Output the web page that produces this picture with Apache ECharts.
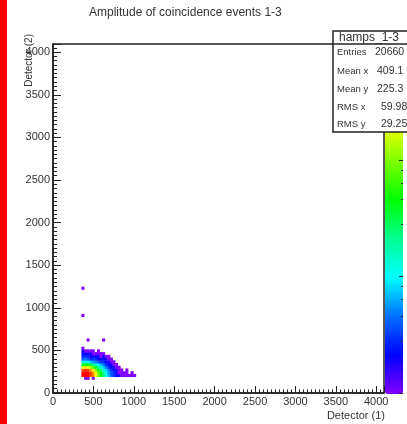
<!DOCTYPE html>
<html>
<head>
<meta charset="utf-8">
<script src="https://cdn.jsdelivr.net/npm/echarts@6/dist/echarts.min.js"></script>
<style>
  html, body { margin: 0; padding: 0; background: #ffffff; }
  #main { width: 407px; height: 424px; }
</style>
</head>
<body>
<div id="main"></div>
<script>
// 2D histogram of coincidence amplitudes, detector 1 vs detector 3 (32-channel bins)
const BIN = 32;
const xBinStarts = [352, 384, 416, 448, 480, 512, 544, 576, 608, 640, 672,
                    704, 736, 768, 800, 832, 864, 896, 928, 960, 992];
const yBinStarts = [160, 192, 224, 256, 288, 320, 352, 384, 416, 448, 480, 512];

// counts per y-bin row (same order as yBinStarts), one entry per x bin
const countsByRow = [
  [  0,   1,   1,   0,   1,   0,   0,  0,  0,  0,  0, 0, 0, 0, 0, 0, 0, 0, 0, 0, 0],
  [950, 990, 960, 750, 450, 220, 100, 50, 25, 12,  7, 4, 3, 2, 2, 1, 1, 1, 1, 1, 1],
  [960, 990, 970, 720, 420, 200,  90, 45, 22, 11,  6, 4, 3, 2, 1, 1, 1, 1, 0, 1, 0],
  [650, 750, 680, 420, 230, 110,  50, 26, 14,  8,  5, 3, 2, 2, 1, 1, 0, 1, 0, 0, 0],
  [200, 250, 220, 140,  80,  45,  24, 14,  8,  5,  3, 2, 2, 1, 1, 0, 0, 0, 0, 0, 0],
  [ 45,  55,  48,  34,  24,  16,  10,  7,  5,  3,  2, 2, 1, 1, 0, 0, 0, 0, 0, 0, 0],
  [ 10,  12,  10,   8,   6,   5,   4,  3,  3,  2,  2, 1, 1, 0, 0, 0, 0, 0, 0, 0, 0],
  [  4,   5,   4,   3,   3,   3,   2,  2,  2,  2,  1, 1, 0, 0, 0, 0, 0, 0, 0, 0, 0],
  [  3,   3,   3,   2,   2,   2,   2,  1,  2,  1,  1, 0, 0, 0, 0, 0, 0, 0, 0, 0, 0],
  [  2,   2,   2,   2,   1,   1,   1,  1,  1,  0,  0, 0, 0, 0, 0, 0, 0, 0, 0, 0, 0],
  [  2,   1,   1,   1,   1,   0,   1,  0,  0,  0,  0, 0, 0, 0, 0, 0, 0, 0, 0, 0, 0],
  [  1,   0,   0,   0,   0,   0,   0,  0,  0,  0,  0, 0, 0, 0, 0, 0, 0, 0, 0, 0, 0]
];

// sparse single-count bins away from the main cluster: [x bin start, y bin start, count]
const isolatedBins = [
  [352, 1216, 1],
  [352,  896, 1],
  [416,  608, 1],
  [608,  608, 1]
];

const axisTickValues = [0, 500, 1000, 1500, 2000, 2500, 3000, 3500, 4000];
const AXIS_MAX = 4096;

const histTitle = 'Amplitude of coincidence events 1-3';
const xTitle = 'Detector (1)';
const yTitle = 'Detector (2)';

const statsName = 'hamps_1-3';
const statsLabels = ['Entries', 'Mean x', 'Mean y', 'RMS x', 'RMS y'];
const statsValues = ['20660', '409.1', '225.3', '59.98', '29.25'];

// rainbow palette, low -> high
const paletteColors = ['#8000ff', '#0000ff', '#0070ff', '#00ffff', '#00ff90',
                       '#00ff00', '#80ff00', '#ffff00', '#ff8000', '#ff0000'];
const Z_MAX_COUNT = 1000;

const FONT = '"Liberation Sans", Arial, Helvetica, sans-serif';

// build cells: [x, y, count, log10(count)]
const cells = [];
countsByRow.forEach(function (row, r) {
  row.forEach(function (count, c) {
    if (count > 0) cells.push([xBinStarts[c], yBinStarts[r], count, Math.log10(count)]);
  });
});
isolatedBins.forEach(function (b) {
  cells.push([b[0], b[1], b[2], Math.log10(b[2])]);
});

function tickLabel(v) {
  return axisTickValues.indexOf(v) >= 0 ? String(v) : '';
}

const chart = echarts.init(document.getElementById('main'), null, { renderer: 'canvas' });

const statsBox = { left: 333, top: 31, width: 90, height: 101, headerLine: 44 };
const statsRowY = [52.5, 71, 89, 107, 124.5];
const statsValueX = [375, 377, 377, 381, 381];

const graphicElements = [
  // red strip along the left edge of the canvas
  { type: 'rect', shape: { x: 0, y: 0, width: 7, height: 424 },
    style: { fill: '#ff0000' }, z: 1 },
  // statistics box
  { type: 'rect', shape: { x: statsBox.left, y: statsBox.top, width: statsBox.width, height: statsBox.height },
    style: { fill: '#ffffff', stroke: '#222222', lineWidth: 1.5 }, z: 100 },
  { type: 'line', shape: { x1: statsBox.left, y1: statsBox.headerLine, x2: statsBox.left + statsBox.width, y2: statsBox.headerLine },
    style: { stroke: '#222222', lineWidth: 1.5 }, z: 101 },
  { type: 'text', x: 339, y: 37.5, z: 102,
    style: { text: statsName, fill: '#333', fontSize: 12, fontFamily: FONT, textAlign: 'left', textVerticalAlign: 'middle' } },
  // axis titles
  { type: 'text', x: 385, y: 416, z: 50,
    style: { text: xTitle, fill: '#333', fontSize: 11, fontFamily: FONT, textAlign: 'right', textVerticalAlign: 'middle' } },
  { type: 'text', x: 29, y: 34, rotation: Math.PI / 2, z: 50,
    style: { text: yTitle, fill: '#333', fontSize: 10, fontFamily: FONT, textAlign: 'right', textVerticalAlign: 'middle' } }
];
statsLabels.forEach(function (label, i) {
  graphicElements.push({ type: 'text', x: 337, y: statsRowY[i], z: 102,
    style: { text: label, fill: '#333', fontSize: 9.5, fontFamily: FONT, textAlign: 'left', textVerticalAlign: 'middle' } });
  graphicElements.push({ type: 'text', x: statsValueX[i], y: statsRowY[i], z: 102,
    style: { text: statsValues[i], fill: '#333', fontSize: 10.5, fontFamily: FONT, textAlign: 'left', textVerticalAlign: 'middle' } });
});

const option = {
  backgroundColor: '#ffffff',
  animation: false,
  title: {
    text: histTitle, left: 89, top: 7, padding: 0,
    textStyle: { fontSize: 12, fontWeight: 'normal', color: '#333', fontFamily: FONT }
  },
  grid: {
    left: 53, top: 44, width: 331, height: 349,
    show: true, borderColor: '#222222', borderWidth: 1.5, backgroundColor: 'transparent'
  },
  xAxis: {
    type: 'value', min: 0, max: AXIS_MAX, interval: 500,
    axisLine: { show: true, lineStyle: { color: '#222222', width: 1.5 } },
    axisTick: { show: true, inside: true, length: 7, lineStyle: { color: '#222222' } },
    minorTick: { show: true, splitNumber: 10, length: 3.5, lineStyle: { color: '#222222' } },
    splitLine: { show: false },
    axisLabel: { margin: 3, fontSize: 11, color: '#333', fontFamily: FONT, formatter: tickLabel }
  },
  yAxis: [
    {
      type: 'value', min: 0, max: AXIS_MAX, interval: 500,
      axisLine: { show: true, lineStyle: { color: '#222222', width: 1.5 } },
      axisTick: { show: true, inside: true, length: 8, lineStyle: { color: '#222222' } },
      minorTick: { show: true, splitNumber: 10, length: 4, lineStyle: { color: '#222222' } },
      splitLine: { show: false },
      axisLabel: { margin: 3, fontSize: 11, color: '#333', fontFamily: FONT, formatter: tickLabel }
    },
    {
      // colour-scale axis on the right edge of the palette
      type: 'log', logBase: 10, min: 1, max: Z_MAX_COUNT,
      position: 'right', offset: 19, z: 10,
      axisLine: { show: false },
      axisTick: { show: true, inside: true, length: 4, lineStyle: { color: '#222222' } },
      minorTick: { show: true, splitNumber: 5, length: 2, lineStyle: { color: '#222222' } },
      axisLabel: { show: false },
      splitLine: { show: false }
    }
  ],
  visualMap: {
    type: 'continuous', min: 0, max: Math.log10(Z_MAX_COUNT), dimension: 3, seriesIndex: 0,
    orient: 'vertical', left: 385, top: 44, itemWidth: 18, itemHeight: 350,
    calculable: false, hoverLink: false, padding: 0, text: null,
    inRange: { color: paletteColors }
  },
  graphic: { elements: graphicElements },
  series: [{
    type: 'custom',
    coordinateSystem: 'cartesian2d',
    xAxisIndex: 0, yAxisIndex: 0,
    silent: true,
    encode: { x: 0, y: 1 },
    data: cells,
    renderItem: function (params, api) {
      const x0 = api.value(0);
      const y0 = api.value(1);
      const corner = api.coord([x0, y0 + BIN]);
      const size = api.size([BIN, BIN]);
      return {
        type: 'rect',
        shape: { x: corner[0], y: corner[1], width: size[0] + 0.4, height: size[1] + 0.4 },
        style: { fill: api.visual('color') }
      };
    }
  }]
};

chart.setOption(option);
</script>
</body>
</html>
